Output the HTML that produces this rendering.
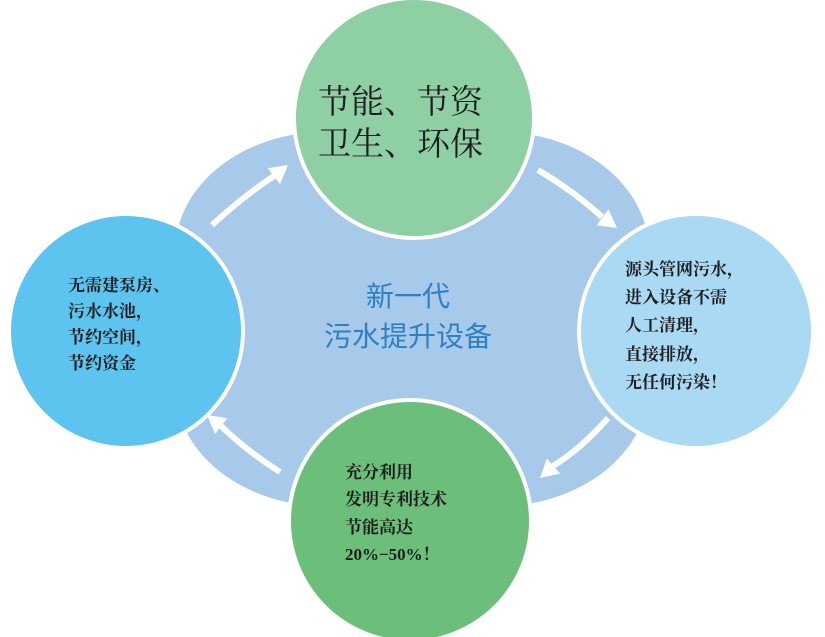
<!DOCTYPE html>
<html><head><meta charset="utf-8"><style>
html,body{margin:0;padding:0;background:#fff;}
svg{display:block;}
text{font-family:"Liberation Serif","Noto Serif CJK SC","Noto Sans CJK SC",serif;}
</style></head><body>
<svg width="825" height="637" viewBox="0 0 825 637" xmlns="http://www.w3.org/2000/svg">
<rect x="175" y="132" width="474" height="374" rx="150" ry="120" fill="#a7c9ea"/>
<g stroke="#fff" stroke-width="6" fill="none">
<path d="M212,225 Q245,195 274,176"/>
<path d="M538,170 Q575,192 602,217"/>
<path d="M608,418 Q582,448 553,466"/>
<path d="M280,472 Q248,452 221,426"/>
</g>
<g fill="#fff">
<polygon points="288,165 280.1,184.1 267.7,168.3"/>
<polygon points="617,228 596.6,225.4 608.4,209.2"/>
<polygon points="540,478 546.9,458.6 560.1,473.6"/>
<polygon points="207,415 227.4,418.2 215,434"/>
</g>
<circle cx="414" cy="118" r="120" fill="#8ecfa4" stroke="#fff" stroke-width="4"/>
<circle cx="126" cy="331" r="117" fill="#5cc4ef" stroke="#fff" stroke-width="4"/>
<circle cx="696" cy="331" r="117" fill="#a9d9f3" stroke="#fff" stroke-width="4"/>
<circle cx="410" cy="521" r="121" fill="#6cbf7b" stroke="#fff" stroke-width="4"/>
<g fill="#1e1e1e" font-size="33">
<text x="318" y="113">节能、节资</text>
<text x="318" y="155">卫生、环保</text>
</g>
<g fill="#1e1e1e" font-size="17" font-weight="bold">
<text x="68" y="291">无需建泵房、</text>
<text x="68" y="317">污水水池，</text>
<text x="68" y="343">节约空间，</text>
<text x="68" y="369">节约资金</text>
<text x="625" y="275">源头管网污水，</text>
<text x="625" y="303">进入设备不需</text>
<text x="625" y="331">人工清理，</text>
<text x="625" y="360">直接排放，</text>
<text x="625" y="388">无任何污染！</text>
<text x="345" y="478">充分利用</text>
<text x="345" y="505">发明专利技术</text>
<text x="345" y="533">节能高达</text>
<text x="345" y="560">20%−50%！</text>
</g>
<g fill="#2f7fc4" font-size="28" text-anchor="middle">
<text x="408" y="306" style="font-family:'Noto Sans CJK SC',sans-serif">新一代</text>
<text x="408" y="346" style="font-family:'Noto Sans CJK SC',sans-serif">污水提升设备</text>
</g>
</svg>
</body></html>
